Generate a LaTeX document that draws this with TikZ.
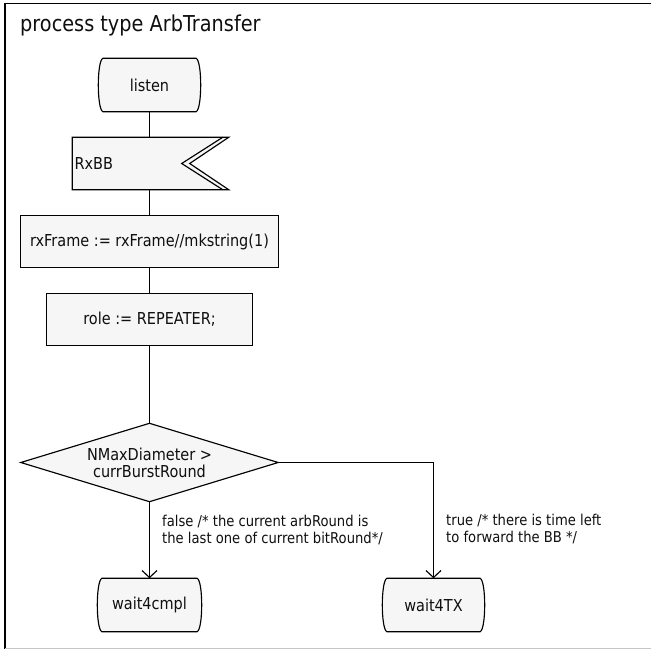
\documentclass[tikz,border=0pt]{standalone}
\usepackage{fontspec}
\setmainfont{DejaVu Sans}[FakeStretch=0.88]
\usetikzlibrary{arrows.meta}
\pgfdeclarelayer{background}
\pgfsetlayers{background,main}
\definecolor{symfill}{RGB}{246,246,246}
\definecolor{ink}{RGB}{15,15,15}
\tikzset{
  sdlline/.style={draw=black, line width=1.15bp},
  sdlsymbol/.style={sdlline, fill=symfill},
  flowtip/.style={-{Straight Barb[length=7bp,width=15bp,line width=1.15bp]}},
  bodytext/.style={font=\fontsize{16.5}{17}\selectfont, text=ink},
  taskbox/.style={bodytext, sdlsymbol, rectangle, inner sep=0pt, minimum height=52bp},
  stateslot/.style={bodytext, inner sep=0pt, minimum height=53bp},
  decision/.style={bodytext, inner sep=0pt, align=center},
  branchnote/.style={font=\fontsize{15}{17.5}\selectfont, text=ink, align=left, inner sep=0pt, anchor=west},
}
% SDL state symbol: straight top and bottom, bulging sides
\newcommand\stateoutline[1]{%
  \filldraw[sdlsymbol] ([xshift=5bp]#1.north west) -- ([xshift=-5bp]#1.north east)
    .. controls ([xshift=1bp,yshift=-3bp]#1.north east) and ([xshift=1bp,yshift=3bp]#1.south east) .. ([xshift=-5bp]#1.south east)
    -- ([xshift=5bp]#1.south west)
    .. controls ([xshift=-1bp,yshift=3bp]#1.south west) and ([xshift=-1bp,yshift=-3bp]#1.north west) .. cycle;}
\begin{document}
\begin{tikzpicture}[x=1bp,y=-1bp]
\useasboundingbox (0,0) rectangle (651,649);

% diagram frame
\draw[line width=1.5bp] (5,660) -- (5,3.5) -- (660,3.5);
\draw[gray!45, line width=1.2bp] (5,648.2) -- (660,648.2);
\node[anchor=base west, inner sep=0pt, font=\fontsize{22}{24}\selectfont, text=ink] (title) at (20,32) {process type ArbTransfer};

% symbols
\node[stateslot, minimum width=103bp] (listen) at (149.5,85) {listen};
\node[bodytext, inner sep=0pt, minimum width=156bp, minimum height=52bp,
      text width=152bp, align=left] (rxbb) at (150.5,163.5) {RxBB};
\node[taskbox, minimum width=258bp] (rxframe) at (149.5,241.5) {rxFrame := rxFrame//mkstring(1)};
\node[taskbox, minimum width=206bp] (role) at (149.5,319.5) {role := REPEATER;};
\node[decision, minimum width=257bp, minimum height=78bp] (dec) at (149.5,462.5) {NMaxDiameter >\\currBurstRound};
\node[stateslot, minimum width=105bp] (cmpl) at (149.5,605) {wait4cmpl};
\node[stateslot, minimum width=103bp] (tx) at (433.5,605) {wait4TX};

\begin{pgfonlayer}{background}
  \stateoutline{listen}
  \stateoutline{cmpl}
  \stateoutline{tx}
  % signal input symbol with double notch
  \filldraw[sdlsymbol] (rxbb.north west) -- (rxbb.north east) -- ([xshift=-39bp]rxbb.east)
    -- (rxbb.south east) -- (rxbb.south west) -- cycle;
  \draw[sdlline] ([xshift=-6bp]rxbb.north east) -- ([xshift=-47bp]rxbb.east) -- ([xshift=-6bp]rxbb.south east);
  % decision symbol
  \filldraw[sdlsymbol] (dec.north) -- (dec.east) -- (dec.south) -- (dec.west) -- cycle;
\end{pgfonlayer}

% flow lines
\draw[sdlline] (listen.south) -- (listen.south |- rxbb.north);
\draw[sdlline] (listen.south |- rxbb.south) -- (listen.south |- rxframe.north);
\draw[sdlline] (rxframe.south) -- (role.north);
\draw[sdlline] (role.south) -- (dec.north);
\draw[sdlline, flowtip] (dec.south) -- (cmpl.north);
\draw[sdlline, flowtip] (dec.east) -| (tx.north);

% branch answers
\node[branchnote] (falsenote) at (162,530) {false /* the current arbRound is\\the last one of current bitRound*/};
\node[branchnote] (truenote) at (446,529) {true /* there is time left\\to forward the BB */};
\end{tikzpicture}
\end{document}
